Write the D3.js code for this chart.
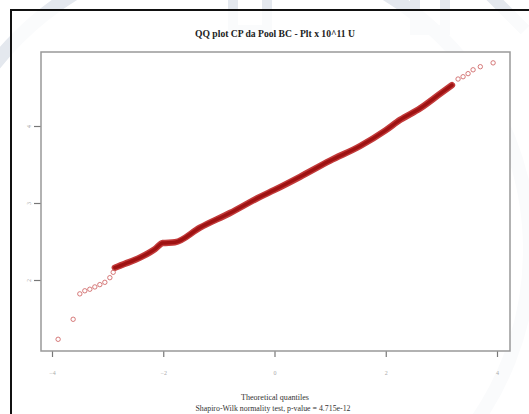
<!DOCTYPE html>
<html>
<head>
<meta charset="utf-8">
<script src="https://cdn.jsdelivr.net/npm/d3@7"></script>
<style>
  body { margin: 0; background: #fff; }
  svg { display: block; }
</style>
</head>
<body>
<svg id="chart" width="529" height="414"></svg>
<script>
// chart values
var titleText = "QQ plot CP da Pool BC - Plt x 10^11 U";
var xLabel = "Theoretical quantiles";
var subLabel = "Shapiro-Wilk normality test, p-value = 4.715e-12";
var xTicks = [-4, -2, 0, 2, 4];
var yTicks = [2, 3, 4];

// sparse points in the lower tail
var lowX = [-3.89, -3.62, -3.50, -3.41, -3.32, -3.23, -3.14, -3.05, -2.96, -2.90];
var lowY = [1.23, 1.49, 1.82, 1.86, 1.88, 1.91, 1.94, 1.97, 2.03, 2.10];
// dense band in the middle
var midX = [-2.87, -2.69, -2.42, -2.15, -2.01, -1.79, -1.34, -0.80, -0.26, 0, 0.46, 1.00, 1.54, 1.99, 2.26, 2.62, 2.98, 3.19];
var midY = [2.16, 2.21, 2.29, 2.40, 2.48, 2.49, 2.68, 2.87, 3.08, 3.17, 3.34, 3.55, 3.74, 3.94, 4.08, 4.23, 4.42, 4.53];
// sparse points in the upper tail
var highX = [3.30, 3.39, 3.48, 3.57, 3.70, 3.93];
var highY = [4.61, 4.64, 4.68, 4.73, 4.77, 4.82];

var svg = d3.select("#chart");

// faint watermark behind the figure
var wm = svg.append("g").attr("fill", "none").attr("stroke", "#e4e8ee");
wm.append("circle").attr("cx", 230).attr("cy", 250).attr("r", 300).attr("stroke-width", 14);
wm.append("rect").attr("x", 233).attr("y", -10).attr("width", 34).attr("height", 40).attr("stroke-width", 10);
wm.append("rect").attr("x", 415).attr("y", -10).attr("width", 30).attr("height", 40).attr("stroke-width", 10);
wm.append("line").attr("x1", 490).attr("y1", -5).attr("x2", 525).attr("y2", 30).attr("stroke-width", 12);

// black frame of the figure
svg.append("rect").attr("x", 11).attr("y", 10).attr("width", 530).attr("height", 420)
  .attr("fill", "#fff").attr("fill-opacity", 0.8)
  .attr("stroke", "#111").attr("stroke-width", 2);

var box = {left: 41, top: 52, right: 510, bottom: 351};

// white plot area
svg.append("rect")
  .attr("x", box.left).attr("y", box.top)
  .attr("width", box.right - box.left).attr("height", box.bottom - box.top)
  .attr("fill", "#fff");

var x = d3.scaleLinear().domain([-4, 4]).range([52, 497]);
var y = d3.scaleLinear().domain([2, 4]).range([280, 126]);

// axes
var xAxis = svg.append("g").attr("transform", "translate(0," + box.bottom + ")")
  .call(d3.axisBottom(x).tickValues(xTicks).tickSize(6).tickPadding(14).tickFormat(d3.format("d")));
var yAxis = svg.append("g").attr("transform", "translate(" + box.left + ",0)")
  .call(d3.axisLeft(y).tickValues(yTicks).tickSize(7).tickPadding(4).tickFormat(d3.format("d")));

[xAxis, yAxis].forEach(function(a) {
  a.select(".domain").remove();
  a.selectAll(".tick line").attr("stroke", "#777").attr("stroke-width", 1.2);
  a.selectAll(".tick text").attr("fill", "#aaa").attr("font-family", "Liberation Serif").attr("font-size", 6);
});
yAxis.selectAll(".tick text")
  .attr("text-anchor", "middle").attr("dy", 0)
  .attr("transform", "rotate(-90,-12,0)")
  .attr("x", -12).attr("y", 2);

// plot box
svg.append("rect")
  .attr("x", box.left).attr("y", box.top)
  .attr("width", box.right - box.left).attr("height", box.bottom - box.top)
  .attr("fill", "none").attr("stroke", "#999").attr("stroke-width", 1.5);

// dense band of overlapping circles
var mid = midX.map(function(d, i) { return [d, midY[i]]; });
var line = d3.line().curve(d3.curveMonotoneX)
  .x(function(d) { return x(d[0]); }).y(function(d) { return y(d[1]); });
svg.append("path").datum(mid).attr("d", line)
  .attr("fill", "none").attr("stroke", "#c23a3a").attr("stroke-width", 6.5).attr("stroke-linecap", "round");
svg.append("path").datum(mid).attr("d", line)
  .attr("fill", "none").attr("stroke", "#9e1212").attr("stroke-width", 3.5).attr("stroke-linecap", "round");

// sparse tail points
var tails = lowX.map(function(d, i) { return [d, lowY[i]]; })
  .concat(highX.map(function(d, i) { return [d, highY[i]]; }));
svg.append("g").selectAll("circle").data(tails).join("circle")
  .attr("cx", function(d) { return x(d[0]); })
  .attr("cy", function(d) { return y(d[1]); })
  .attr("r", 2.2)
  .attr("fill", "none").attr("stroke", "#d06a6a").attr("stroke-width", 0.9);

// texts
svg.append("text").attr("x", 275).attr("y", 37).attr("text-anchor", "middle")
  .attr("font-family", "Liberation Serif").attr("font-weight", "bold").attr("font-size", 10)
  .attr("textLength", 160).attr("lengthAdjust", "spacingAndGlyphs")
  .attr("fill", "#222").text(titleText);
svg.append("text").attr("x", 275).attr("y", 400).attr("text-anchor", "middle")
  .attr("font-family", "Liberation Serif").attr("font-size", 9)
  .attr("textLength", 68).attr("lengthAdjust", "spacingAndGlyphs")
  .attr("fill", "#333").text(xLabel);
svg.append("text").attr("x", 273).attr("y", 411).attr("text-anchor", "middle")
  .attr("font-family", "Liberation Serif").attr("font-size", 8)
  .attr("textLength", 155).attr("lengthAdjust", "spacingAndGlyphs")
  .attr("fill", "#333").text(subLabel);
</script>
</body>
</html>
